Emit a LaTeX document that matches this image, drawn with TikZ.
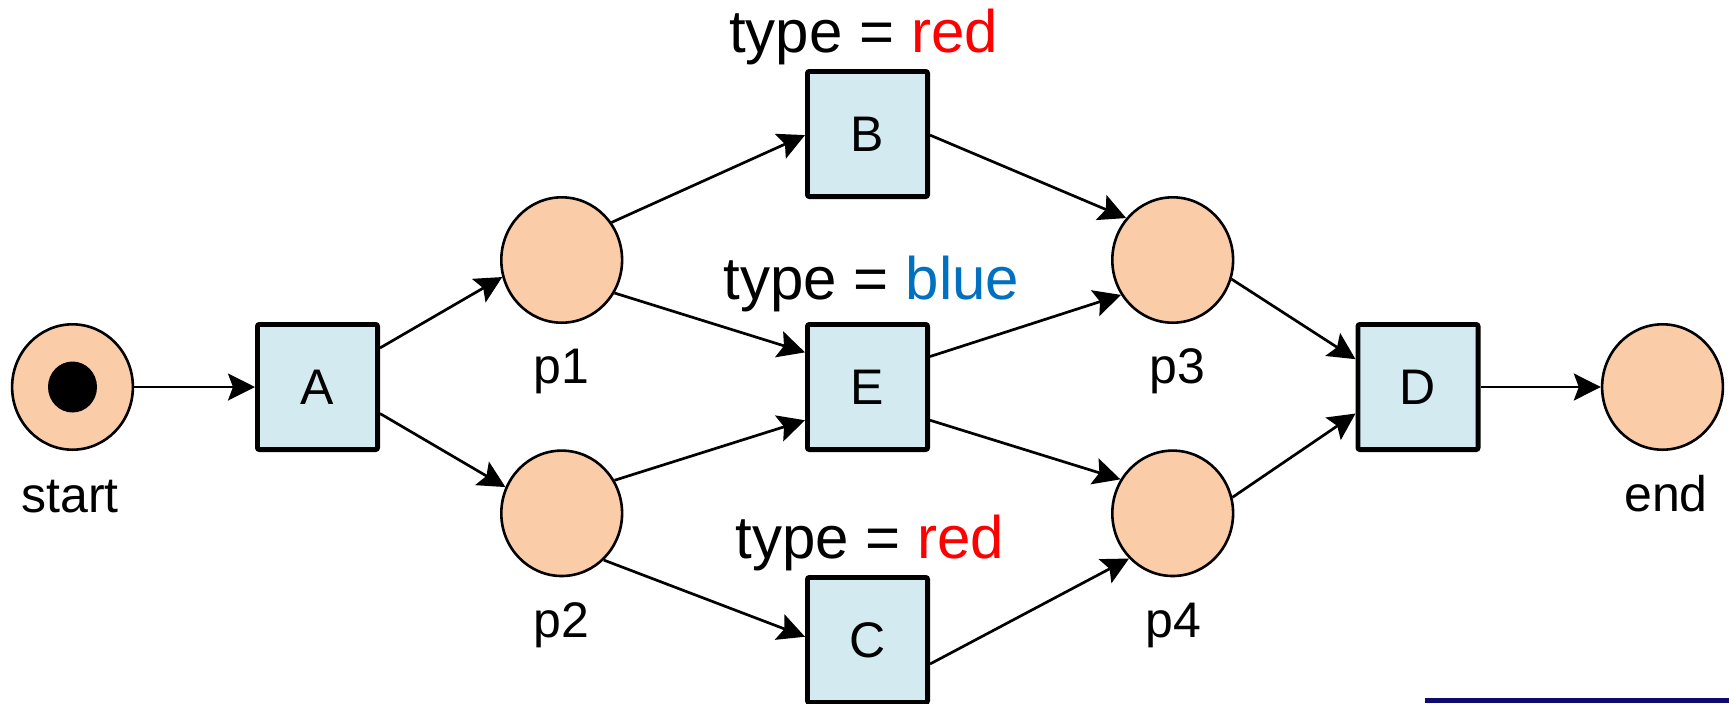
\documentclass[tikz,border=0pt]{standalone}
\usepackage{fontspec}
\setmainfont{Liberation Sans}
\usetikzlibrary{arrows.meta,shapes.geometric}
\definecolor{placefill}{RGB}{250,205,168}
\definecolor{transfill}{RGB}{210,234,240}
\definecolor{typered}{RGB}{255,0,0}
\definecolor{typeblue}{RGB}{0,112,192}
\definecolor{barnavy}{RGB}{14,10,110}
\begin{document}
\begin{tikzpicture}[x=0.5pt,y=-0.5pt,
 place/.style={ellipse, draw, line width=1.3pt, fill=placefill, minimum width=60.4pt, minimum height=62.7pt, inner sep=0pt},
 trans/.style={rectangle, draw, line width=2.4pt, fill=transfill, minimum width=60.1pt, minimum height=62.6pt, inner sep=0pt, rounded corners=1pt, font=\fontsize{25}{30}\selectfont},
 lbl/.style={anchor=base, inner sep=0pt, font=\fontsize{25}{30}\selectfont},
 typelbl/.style={anchor=base, inner sep=0pt, font=\fontsize{30}{36}\selectfont},
 arc/.style={-{Stealth[length=13.5pt,width=13.5pt,inset=2.5pt]}, line width=1.35pt},
 token/.style={ellipse, fill=black, minimum width=24.5pt, minimum height=25.5pt, inner sep=0pt}
]
\useasboundingbox (0,0) rectangle (1729,703);
\clip (0,0) rectangle (1729,703);

% places
\node[place] (start) at (72.5,387) {};
\node[token] (tok) at (start.center) {};
\node[place] (p1) at (561.7,260) {};
\node[place] (p2) at (561.7,513.3) {};
\node[place] (p3) at (1172.7,260) {};
\node[place] (p4) at (1172.7,513.3) {};
\node[place] (end) at (1662.5,387) {};

% transitions
\node[trans] (A) at (317.5,387) {A};
\node[trans] (B) at (867.5,134) {B};
\node[trans] (E) at (867.5,387) {E};
\node[trans] (C) at (867.5,640) {C};
\node[trans] (D) at (1418,387) {D};

% labels
\node[lbl] (lstart) at (70,512) {start};
\node[lbl] (lend) at (1666,511) {end};
\node[lbl] (lp1) at (561.5,383) {p1};
\node[lbl] (lp2) at (561.7,637) {p2};
\node[lbl] (lp3) at (1177,383) {p3};
\node[lbl] (lp4) at (1173,637) {p4};
\node[typelbl] (tB) at (863.5,52) {type = \textcolor{typered}{red}};
\node[typelbl] (tE) at (871.5,299) {type = \textcolor{typeblue}{blue}};
\node[typelbl] (tC) at (870,558) {type = \textcolor{typered}{red}};

% arcs
\draw[arc] (start.east) -- (A.west);
\draw[arc] (A.32.8) -- (p1.196.1);
\draw[arc] (A.337.2) -- (p2.155.7);
\draw[arc] (p1.37.5) -- (B.181);
\draw[arc] (p1.328) -- (E.151.9);
\draw[arc] (p2.32.5) -- (E.208);
\draw[arc] (p2.312.2) -- (C.177);
\draw[arc] (B.359) -- (p3.138.4);
\draw[arc] (E.26.9) -- (p3.214.5);
\draw[arc] (E.332.7) -- (p4.147.7);
\draw[arc] (C.339) -- (p4.226);
\draw[arc] (p3.342.3) -- (D.156.7);
\draw[arc] (p4.15.9) -- (D.203.3);
\draw[arc] (D.east) -- (end.west);

% strip at lower right
\fill[barnavy] (1425,697.7) rectangle (1729,703);
\end{tikzpicture}
\end{document}
